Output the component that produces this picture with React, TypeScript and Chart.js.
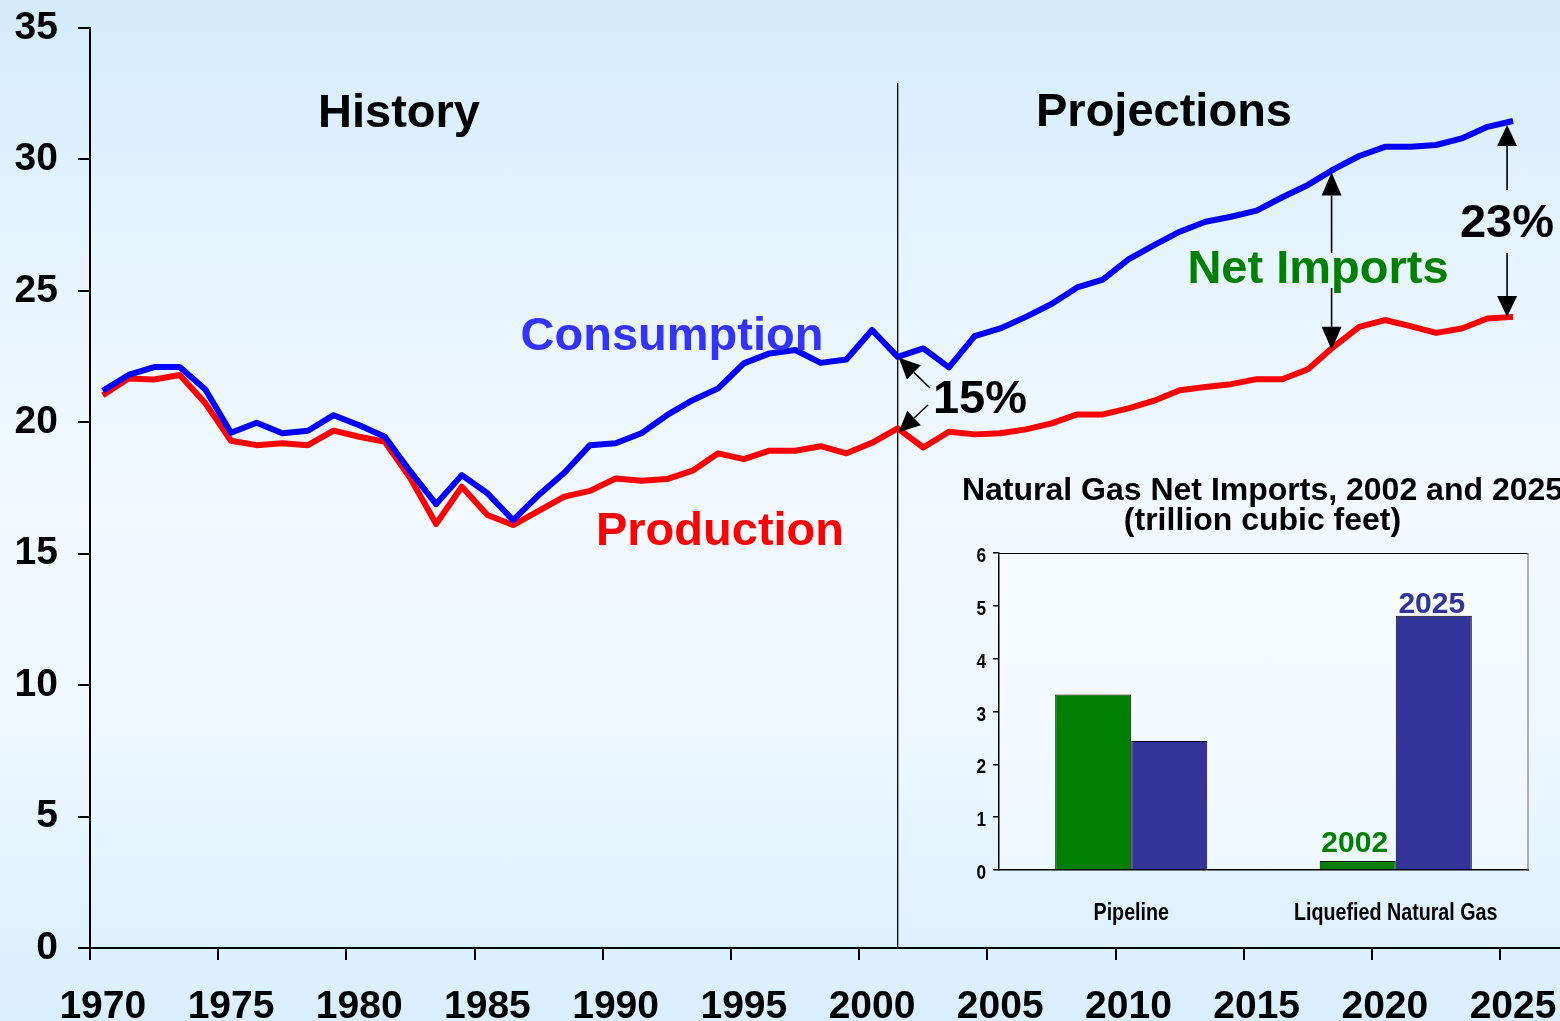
import React, { useEffect, useRef } from 'react';
import { Chart, registerables } from 'chart.js';
Chart.register(...registerables);

// ---------- data ----------
const YEARS = [
  1970, 1971, 1972, 1973, 1974, 1975, 1976, 1977, 1978, 1979,
  1980, 1981, 1982, 1983, 1984, 1985, 1986, 1987, 1988, 1989,
  1990, 1991, 1992, 1993, 1994, 1995, 1996, 1997, 1998, 1999,
  2000, 2001, 2002, 2003, 2004, 2005, 2006, 2007, 2008, 2009,
  2010, 2011, 2012, 2013, 2014, 2015, 2016, 2017, 2018, 2019,
  2020, 2021, 2022, 2023, 2024, 2025,
];
const CONSUMPTION = [
  21.2, 21.8, 22.1, 22.1, 21.25, 19.6, 19.98, 19.58, 19.68, 20.27,
  19.89, 19.45, 18.12, 16.89, 17.99, 17.3, 16.28, 17.23, 18.08, 19.13,
  19.2, 19.58, 20.27, 20.84, 21.29, 22.24, 22.62, 22.75, 22.26, 22.39,
  23.51, 22.49, 22.81, 22.09, 23.28, 23.57, 24.01, 24.5, 25.13, 25.43,
  26.2, 26.74, 27.25, 27.63, 27.82, 28.05, 28.56, 29.03, 29.62, 30.13,
  30.48, 30.48, 30.55, 30.8, 31.24, 31.46,
];
const PRODUCTION = [
  21.03, 21.67, 21.63, 21.8, 20.72, 19.3, 19.13, 19.2, 19.13, 19.68,
  19.45, 19.26, 17.86, 16.13, 17.55, 16.47, 16.09, 16.63, 17.17, 17.39,
  17.86, 17.78, 17.84, 18.16, 18.82, 18.6, 18.92, 18.92, 19.09, 18.82,
  19.22, 19.77, 19.04, 19.64, 19.54, 19.58, 19.73, 19.96, 20.3, 20.3,
  20.53, 20.82, 21.22, 21.34, 21.45, 21.64, 21.64, 22.02, 22.87, 23.63,
  23.89, 23.66, 23.4, 23.57, 23.95, 24.01,
];
const X_TICK_YEARS = [1970, 1975, 1980, 1985, 1990, 1995, 2000, 2005, 2010, 2015, 2020, 2025];
const Y_MIN = 0;
const Y_MAX = 35;
const Y_STEP = 5;
const DIVIDER_YEAR = 2001;
const NET_IMPORTS_YEAR = 2018;
const END_YEAR = 2025;

const INSET_CATEGORIES = ['Pipeline', 'Liquefied Natural Gas'];
const IMPORTS_2002 = [3.32, 0.17];
const IMPORTS_2025 = [2.44, 4.81];
const INSET_Y_MAX = 6;
const INSET_Y_STEP = 1;

// ---------- style ----------
const SANS = '"Liberation Sans", Arial, Helvetica, sans-serif';
const BIG = `bold 47px ${SANS}`;
const NARROW_SCALE = 0.82;

function drawArrow(ctx: CanvasRenderingContext2D, x1: number, y1: number, x2: number, y2: number, len: number, half: number) {
  const ang = Math.atan2(y2 - y1, x2 - x1);
  const bx = x2 - len * Math.cos(ang);
  const by = y2 - len * Math.sin(ang);
  ctx.beginPath();
  ctx.moveTo(x1, y1);
  ctx.lineTo(bx, by);
  ctx.stroke();
  ctx.beginPath();
  ctx.moveTo(x2, y2);
  ctx.lineTo(bx + half * Math.sin(ang), by - half * Math.cos(ang));
  ctx.lineTo(bx - half * Math.sin(ang), by + half * Math.cos(ang));
  ctx.closePath();
  ctx.fill();
}

function text(ctx: CanvasRenderingContext2D, s: string, x: number, y: number, color: string, font = BIG, align: CanvasTextAlign = 'center') {
  ctx.font = font;
  ctx.fillStyle = color;
  ctx.textAlign = align;
  ctx.textBaseline = 'alphabetic';
  ctx.fillText(s, x, y);
}

function narrowText(ctx: CanvasRenderingContext2D, s: string, x: number, y: number, font: string, align: CanvasTextAlign) {
  ctx.save();
  ctx.translate(x, y);
  ctx.scale(NARROW_SCALE, 1);
  text(ctx, s, 0, 0, '#000', font, align);
  ctx.restore();
}

const mainDecor = {
  id: 'mainDecor',
  beforeDatasetsDraw(chart: any) {
    const { ctx, chartArea, scales } = chart;
    const vx = scales.x.getPixelForValue(DIVIDER_YEAR);
    ctx.save();
    ctx.strokeStyle = '#000';
    ctx.lineWidth = 1.3;
    ctx.beginPath();
    ctx.moveTo(vx, 83);
    ctx.lineTo(vx, chartArea.bottom);
    ctx.stroke();
    ctx.restore();
  },
  afterDatasetsDraw(chart: any) {
    const { ctx, scales } = chart;
    const xs = scales.x;
    const ys = scales.y;
    ctx.save();
    text(ctx, 'History', 399, 127, '#000');
    text(ctx, 'Projections', 1164, 126, '#000');
    text(ctx, 'Consumption', 672, 350, '#3333ff');
    text(ctx, 'Production', 720, 545, '#ff0000');
    text(ctx, 'Net Imports', 1318, 283, '#008000');
    text(ctx, '15%', 980, 413, '#000');
    text(ctx, '23%', 1507, 237, '#000');

    ctx.strokeStyle = '#000';
    ctx.fillStyle = '#000';
    ctx.lineWidth = 1.6;

    // 15% arrows at divider year
    const di = YEARS.indexOf(DIVIDER_YEAR);
    const dx = xs.getPixelForValue(DIVIDER_YEAR) + 1;
    drawArrow(ctx, 930, 388, dx, ys.getPixelForValue(CONSUMPTION[di]) + 1, 21, 10);
    drawArrow(ctx, 928, 405, dx, ys.getPixelForValue(PRODUCTION[di]) + 4, 21, 10);

    // Net imports double arrow
    const ni = YEARS.indexOf(NET_IMPORTS_YEAR);
    const nx = xs.getPixelForValue(NET_IMPORTS_YEAR) - 2;
    drawArrow(ctx, nx, 253, nx, ys.getPixelForValue(CONSUMPTION[ni]) + 3, 23, 10);
    drawArrow(ctx, nx, 288, nx, ys.getPixelForValue(PRODUCTION[ni]) + 3, 23, 10);

    // 23% double arrow
    const ei = YEARS.indexOf(END_YEAR);
    const ex = xs.getPixelForValue(END_YEAR) - 6;
    drawArrow(ctx, ex, 190, ex, ys.getPixelForValue(CONSUMPTION[ei]) + 4, 21, 10);
    drawArrow(ctx, ex, 253, ex, ys.getPixelForValue(PRODUCTION[ei]), 21, 10);
    ctx.restore();
  },
};

const insetDecor = {
  id: 'insetDecor',
  beforeDraw(chart: any) {
    const { ctx, chartArea } = chart;
    ctx.save();
    ctx.fillStyle = 'rgba(255,255,255,0.35)';
    ctx.fillRect(chartArea.left, chartArea.top, chartArea.right - chartArea.left, chartArea.bottom - chartArea.top);
    ctx.restore();
  },
  afterDatasetsDraw(chart: any) {
    const { ctx, chartArea, scales } = chart;
    ctx.save();
    ctx.lineWidth = 1.2;
    ctx.strokeStyle = '#000';
    ctx.beginPath();
    ctx.moveTo(chartArea.left, chartArea.top + 0.5);
    ctx.lineTo(chartArea.right, chartArea.top + 0.5);
    ctx.stroke();
    ctx.strokeStyle = '#808080';
    ctx.beginPath();
    ctx.moveTo(chartArea.right, chartArea.top);
    ctx.lineTo(chartArea.right, chartArea.bottom);
    ctx.stroke();

    // condensed axis labels
    const cf = `bold 24px ${SANS}`;
    INSET_CATEGORIES.forEach((c, i) => {
      narrowText(ctx, c, scales.x.getPixelForValue(i), chartArea.bottom + 50, cf, 'center');
    });
    const yf = `bold 21px ${SANS}`;
    for (let v = 0; v <= INSET_Y_MAX; v += INSET_Y_STEP) {
      narrowText(ctx, String(v), chartArea.left - 13, scales.y.getPixelForValue(v) + 9, yf, 'right');
    }

    const g = chart.getDatasetMeta(0).data[1];
    const b = chart.getDatasetMeta(1).data[1];
    const lf = `bold 30px ${SANS}`;
    text(ctx, '2002', g.x - 3, g.y - 9, '#008000', lf);
    text(ctx, '2025', b.x - 2, b.y - 3, '#333399', lf);

    const cx = (chartArea.left + chartArea.right) / 2 - 1;
    const tf = `bold 32px ${SANS}`;
    text(ctx, 'Natural Gas Net Imports, 2002 and 2025', cx, chartArea.top - 53, '#000', tf);
    text(ctx, '(trillion cubic feet)', cx, chartArea.top - 23, '#000', tf);
    ctx.restore();
  },
};

export default function App() {
  const mainRef = useRef<HTMLCanvasElement>(null);
  const insetRef = useRef<HTMLCanvasElement>(null);

  useEffect(() => {
    document.body.style.margin = '0';
    const axisFont = { family: SANS, size: 39, weight: 'bold' as const };

    const main = new Chart(mainRef.current as HTMLCanvasElement, {
      type: 'line',
      data: {
        datasets: [
          {
            label: 'Consumption',
            data: YEARS.map((yr, i) => ({ x: yr, y: CONSUMPTION[i] })),
            borderColor: '#0000ff',
            borderWidth: 6,
            pointRadius: 0,
            tension: 0,
            borderJoinStyle: 'round',
          },
          {
            label: 'Production',
            data: YEARS.map((yr, i) => ({ x: yr, y: PRODUCTION[i] })),
            borderColor: '#ff0000',
            borderWidth: 6,
            pointRadius: 0,
            tension: 0,
            borderJoinStyle: 'round',
          },
        ],
      },
      options: {
        responsive: false,
        animation: false,
        devicePixelRatio: 1,
        layout: { padding: { top: 28, left: 0, right: 0, bottom: 0 } },
        plugins: { legend: { display: false }, tooltip: { enabled: false } },
        scales: {
          x: {
            type: 'linear',
            min: 1969.5,
            max: 2026.83,
            afterBuildTicks: (s: any) => {
              s.ticks = X_TICK_YEARS.map((v) => ({ value: v - 0.5 }));
            },
            afterFit: (s: any) => {
              s.height = 73;
              s.paddingLeft = 0;
              s.paddingRight = 0;
            },
            ticks: {
              autoSkip: false,
              maxRotation: 0,
              labelOffset: 12.8,
              padding: 24,
              color: '#000',
              font: axisFont,
              callback: (v: any) => String(Math.round(Number(v) + 0.5)),
            },
            grid: { drawOnChartArea: false, drawTicks: true, tickLength: 12, color: '#000', lineWidth: 2 },
            border: { display: true, color: '#000', width: 2 },
          },
          y: {
            min: Y_MIN,
            max: Y_MAX,
            afterFit: (s: any) => {
              s.width = 90;
              s.paddingTop = 0;
              s.paddingBottom = 0;
            },
            ticks: { stepSize: Y_STEP, padding: 20, color: '#000', font: axisFont },
            grid: { drawOnChartArea: false, drawTicks: true, tickLength: 12, color: '#000', lineWidth: 2 },
            border: { display: true, color: '#000', width: 2 },
          },
        },
      },
      plugins: [mainDecor],
    } as any);

    const inset = new Chart(insetRef.current as HTMLCanvasElement, {
      type: 'bar',
      data: {
        labels: INSET_CATEGORIES,
        datasets: [
          { label: '2002', data: IMPORTS_2002, backgroundColor: '#008000', borderColor: '#000', borderWidth: 1 },
          { label: '2025', data: IMPORTS_2025, backgroundColor: '#333399', borderColor: '#000', borderWidth: 1 },
        ],
      },
      options: {
        responsive: false,
        animation: false,
        devicePixelRatio: 1,
        layout: { padding: { top: 93, right: 32, left: 0, bottom: 0 } },
        plugins: { legend: { display: false }, tooltip: { enabled: false } },
        datasets: { bar: { categoryPercentage: 0.575, barPercentage: 1 } },
        scales: {
          x: {
            afterFit: (s: any) => {
              s.height = 70;
              s.paddingLeft = 0;
              s.paddingRight = 0;
            },
            ticks: { display: false },
            grid: { drawOnChartArea: false, drawTicks: false, color: '#000' },
            border: { display: true, color: '#000', width: 1.5 },
          },
          y: {
            min: 0,
            max: INSET_Y_MAX,
            afterFit: (s: any) => {
              s.width = 59;
              s.paddingTop = 0;
              s.paddingBottom = 0;
            },
            ticks: { display: false, stepSize: INSET_Y_STEP },
            grid: { drawOnChartArea: false, drawTicks: true, tickLength: 6, color: '#000', lineWidth: 1.5 },
            border: { display: true, color: '#000', width: 1.5 },
          },
        },
      },
      plugins: [insetDecor],
    } as any);

    return () => {
      main.destroy();
      inset.destroy();
    };
  }, []);

  return (
    <div
      style={{
        position: 'absolute',
        left: 0,
        top: 0,
        width: 1560,
        height: 1021,
        overflow: 'hidden',
        background: 'linear-gradient(to bottom, #d3ebfb 0%, #e6f4fe 25%, #f2f9ff 50%, #eef8ff 70%, #d9eefd 100%)',
      }}
    >
      <canvas ref={mainRef} width={1560} height={1021} style={{ position: 'absolute', left: 0, top: 0 }} />
      <canvas ref={insetRef} width={620} height={480} style={{ position: 'absolute', left: 940, top: 460 }} />
    </div>
  );
}
